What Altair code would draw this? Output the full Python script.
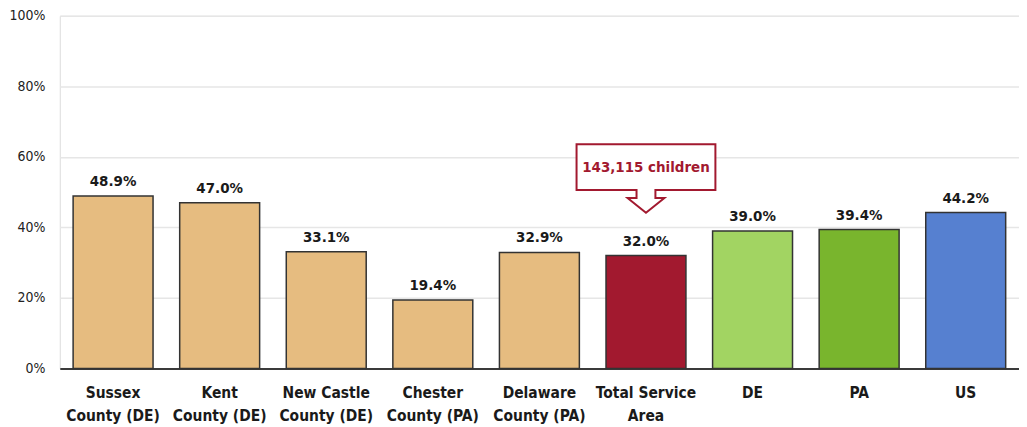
import altair as alt
import pandas as pd

categories = [
    "Sussex\nCounty (DE)",
    "Kent\nCounty (DE)",
    "New Castle\nCounty (DE)",
    "Chester\nCounty (PA)",
    "Delaware\nCounty (PA)",
    "Total Service\nArea",
    "DE",
    "PA",
    "US",
]
values = [48.9, 47.0, 33.1, 19.4, 32.9, 32.0, 39.0, 39.4, 44.2]
bar_colors = ["#E6BC80", "#E6BC80", "#E6BC80", "#E6BC80", "#E6BC80",
              "#A2192F", "#A2D462", "#79B52D", "#5680D0"]
y_ticks = [0, 20, 40, 60, 80, 100]

callout_category = ["Total Service\nArea"]
callout_value = [32.0]
callout_text = ["143,115 children"]

FONT = "'DejaVu Sans Condensed', 'Liberation Sans', Arial, sans-serif"
MAROON = "#A2192F"

df = pd.DataFrame({"cat": categories, "value": values})
df_call = pd.DataFrame({"cat": callout_category, "value": callout_value, "txt": callout_text})

x_enc = alt.X(
    "cat:N",
    sort=categories,
    scale=alt.Scale(domain=categories, paddingInner=0.25, paddingOuter=0.125),
    axis=alt.Axis(
        title=None,
        labelAngle=0,
        labelExpr="split(datum.label, '\\n')",
        labelFont=FONT,
        labelFontSize=15.5,
        labelFontWeight="bold",
        labelColor="#1a1a1a",
        labelLineHeight=23.5,
        labelPadding=17,
        ticks=False,
        domain=True,
        domainColor="#000000",
        domainWidth=1.5,
        maxExtent=60,
        minExtent=60,
    ),
)
y_scale = alt.Scale(domain=[0, 100])
y_enc = alt.Y(
    "value:Q",
    scale=y_scale,
    axis=alt.Axis(
        title=None,
        values=y_ticks,
        labelExpr="datum.value + '%'",
        labelFont=FONT,
        labelFontSize=14,
        labelColor="#222222",
        labelPadding=15,
        ticks=False,
        domain=False,
        grid=True,
        gridColor="#e6e6e6",
        gridWidth=1.5,
        minExtent=48,
        maxExtent=48,
    ),
)

bars = alt.Chart(df).mark_bar(stroke="#333333", strokeWidth=1.5).encode(
    x=x_enc,
    y=y_enc,
    color=alt.Color("cat:N", scale=alt.Scale(domain=categories, range=bar_colors), legend=None),
)

labels = alt.Chart(df).transform_calculate(
    lbl="format(datum.value, '.1f') + '%'"
).mark_text(
    font=FONT, fontSize=15, fontWeight="bold", color="#1a1a1a",
    baseline="alphabetic", dy=-10,
).encode(
    x=alt.X("cat:N", sort=categories),
    y=alt.Y("value:Q", scale=y_scale),
    text="lbl:N",
)

callout_path = (
    "M -1 -1.603 L 1 -1.603 L 1 -0.943 L 0.136 -0.943 L 0.136 -0.828 "
    "L 0.265 -0.828 L 0 -0.617 L -0.265 -0.828 L -0.136 -0.828 "
    "L -0.136 -0.943 L -1 -0.943 Z"
)
callout_shape = alt.Chart(df_call).mark_point(
    shape=callout_path, size=19432, filled=True, fill="white",
    stroke=MAROON, strokeWidth=2, opacity=1,
).encode(
    x=alt.X("cat:N", sort=categories),
    y=alt.Y("value:Q", scale=y_scale),
)
callout_label = alt.Chart(df_call).mark_text(
    font=FONT, fontSize=15, fontWeight="bold", color=MAROON,
    baseline="middle", dy=-88.7,
).encode(
    x=alt.X("cat:N", sort=categories),
    y=alt.Y("value:Q", scale=y_scale),
    text="txt:N",
)

chart = alt.layer(bars, labels, callout_shape, callout_label).properties(
    width=963,
    height=354,
    padding={"left": 0, "top": 0, "right": 0, "bottom": 0},
).configure_view(stroke=None).configure(background="white")

chart.save("out.html", embed_options={"renderer": "svg", "actions": False})
